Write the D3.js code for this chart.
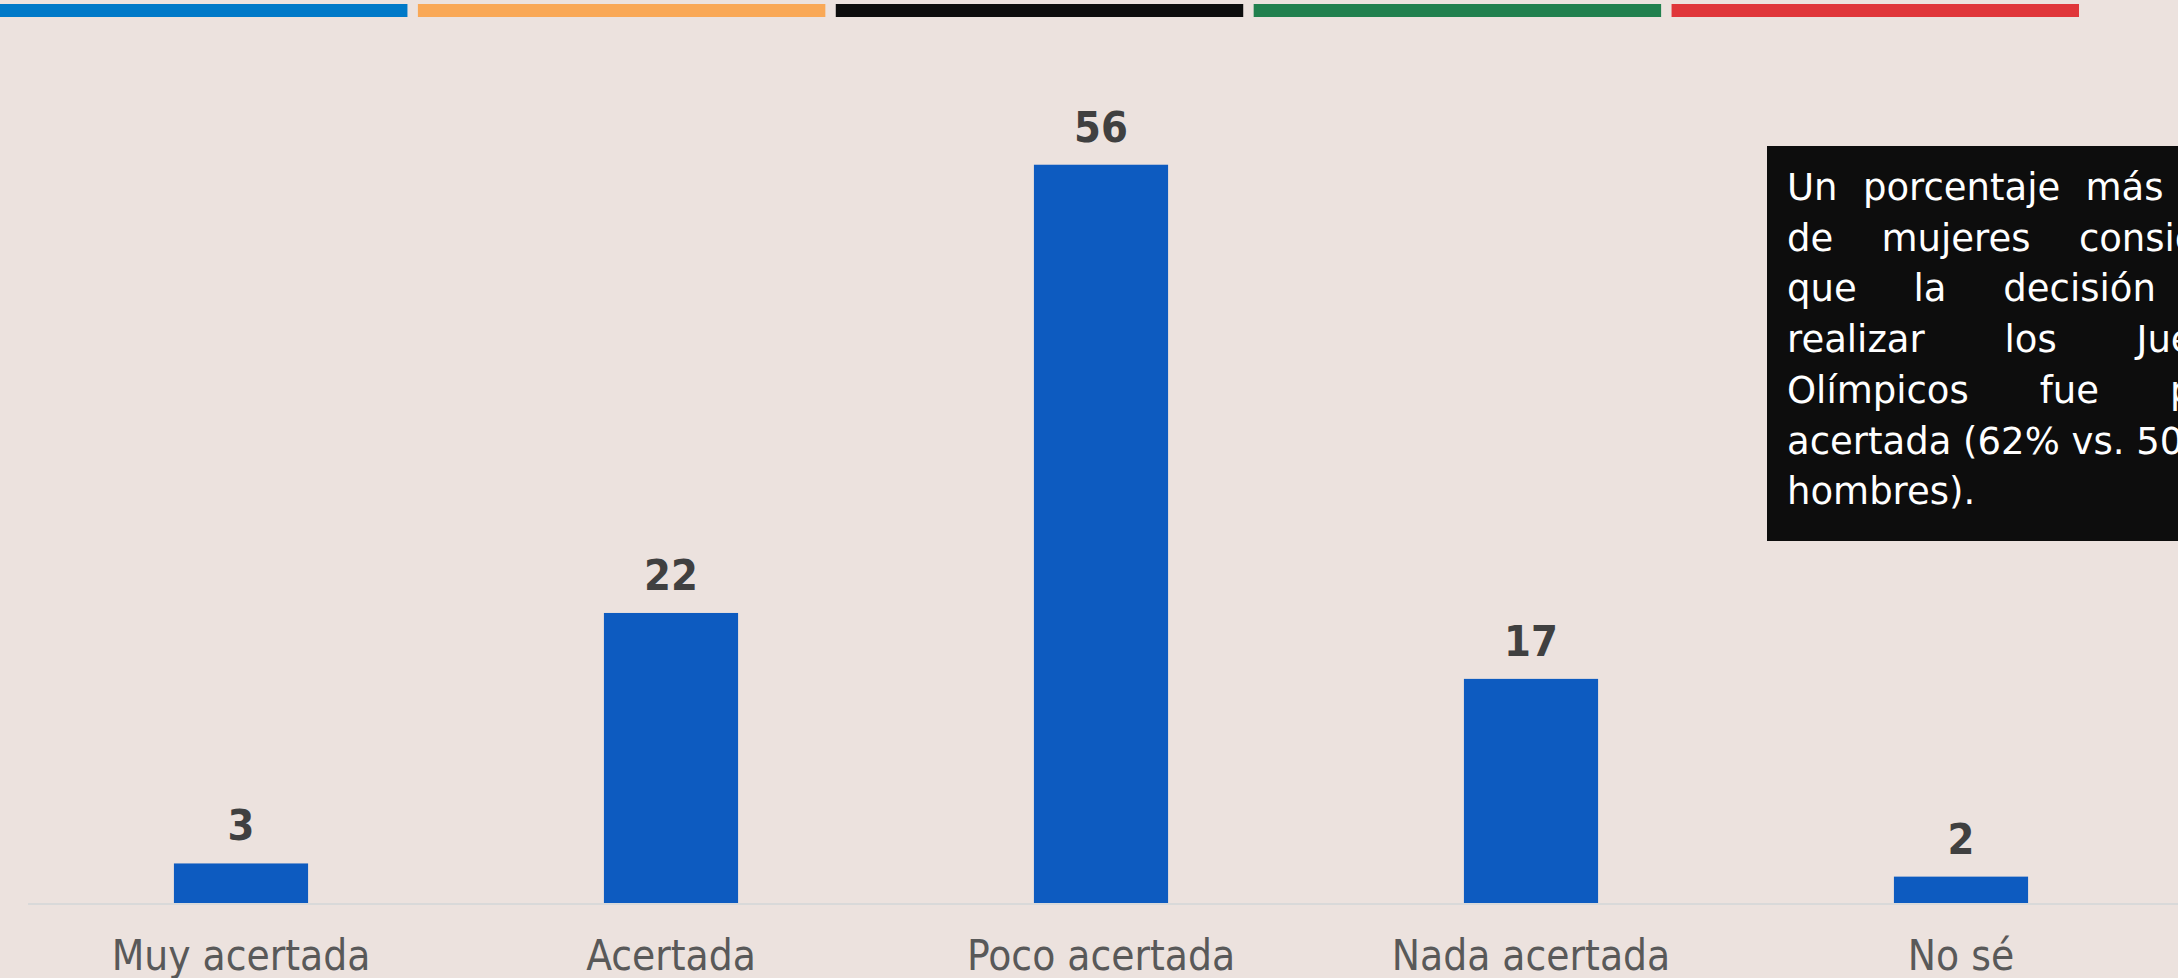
<!DOCTYPE html>
<html>
<head>
<meta charset="utf-8">
<script src="https://cdn.jsdelivr.net/npm/d3@7"></script>
<style>
  html, body { margin: 0; padding: 0; background: #ECE2DE; overflow: hidden; }
  svg { display: block; }
</style>
</head>
<body>
<svg id="chart" width="2178" height="978"></svg>
<script>
// ---- data ----
const categories = ["Muy acertada", "Acertada", "Poco acertada", "Nada acertada", "No sé"];
const values = [3, 22, 56, 17, 2];
const stripeColors = ["#0079C8", "#F9A856", "#0D0D0D", "#21804E", "#E0363A"];
const noteLines = [
  "Un porcentaje más alto",
  "de mujeres considera",
  "que la decisión de",
  "realizar los Juegos",
  "Olímpicos fue poco",
  "acertada (62% vs. 50% de",
  "hombres)."
];

const W = 2178, H = 978;
const svg = d3.select("#chart");
const FONT = "'DejaVu Sans Condensed', 'DejaVu Sans', sans-serif";
const NOTE_FONT = "'DejaVu Sans', sans-serif";

svg.append("rect").attr("width", W).attr("height", H).attr("fill", "#ECE2DE");

// top colored stripes
const stripeX = d3.scaleBand().domain(d3.range(stripeColors.length)).range([0, 2079]).paddingInner(0.025);
svg.append("g").selectAll("rect").data(stripeColors).join("rect")
  .attr("x", (d, i) => stripeX(i))
  .attr("y", 4)
  .attr("width", stripeX.bandwidth())
  .attr("height", 13)
  .attr("fill", d => d);

// scales
const x = d3.scaleBand().domain(categories).range([26, 2176]).paddingInner(0.688).paddingOuter(0.344);
const y = d3.scaleLinear().domain([0, 60]).range([903, 112]);

// baseline axis
svg.append("line")
  .attr("x1", 28).attr("x2", W)
  .attr("y1", y(0) + 1).attr("y2", y(0) + 1)
  .attr("stroke", "#D9D9D9").attr("stroke-width", 2);

// bars
svg.append("g").selectAll("rect").data(values).join("rect")
  .attr("x", (d, i) => x(categories[i]))
  .attr("y", d => y(d))
  .attr("width", x.bandwidth())
  .attr("height", d => y(0) - y(d))
  .attr("fill", "#0D5BC0");

// value labels
svg.append("g").selectAll("text").data(values).join("text")
  .attr("x", (d, i) => x(categories[i]) + x.bandwidth() / 2)
  .attr("y", d => y(d) - 23)
  .attr("text-anchor", "middle")
  .attr("font-family", FONT)
  .attr("font-weight", "bold")
  .attr("font-size", 43)
  .attr("fill", "#404040")
  .text(d => d);

// category labels
const xAxis = d3.axisBottom(x).tickSize(0).tickPadding(0);
const ax = svg.append("g").attr("transform", `translate(0,${y(0)})`).call(xAxis);
ax.select(".domain").remove();
ax.selectAll("text")
  .attr("dy", null)
  .attr("y", 67)
  .attr("font-family", FONT)
  .attr("font-size", 42)
  .attr("fill", "#595959");

// annotation box
const boxX = 1767, boxY = 146, textX = 1787, textW = 472;
svg.append("rect")
  .attr("x", boxX).attr("y", boxY)
  .attr("width", 520).attr("height", 395)
  .attr("fill", "#0D0D0D");

const noteG = svg.append("g");
const lineH = 50.7, firstBase = 200;
const fs = 37, spaceW = 0.318 * fs;
noteLines.forEach((line, li) => {
  const words = line.split(" ");
  const by = firstBase + li * lineH;
  const nodes = words.map(w => noteG.append("text")
    .attr("y", by)
    .attr("font-family", NOTE_FONT)
    .attr("font-size", fs)
    .attr("fill", "#FFFFFF")
    .text(w));
  const widths = nodes.map(n => n.node().getComputedTextLength());
  const total = d3.sum(widths);
  const last = li === noteLines.length - 1;
  let gap = (!last && words.length > 1) ? (textW - total) / (words.length - 1) : spaceW;
  if (gap < spaceW) gap = spaceW;
  let cx = textX;
  nodes.forEach((n, k) => { n.attr("x", cx); cx += widths[k] + gap; });
});
</script>
</body>
</html>
